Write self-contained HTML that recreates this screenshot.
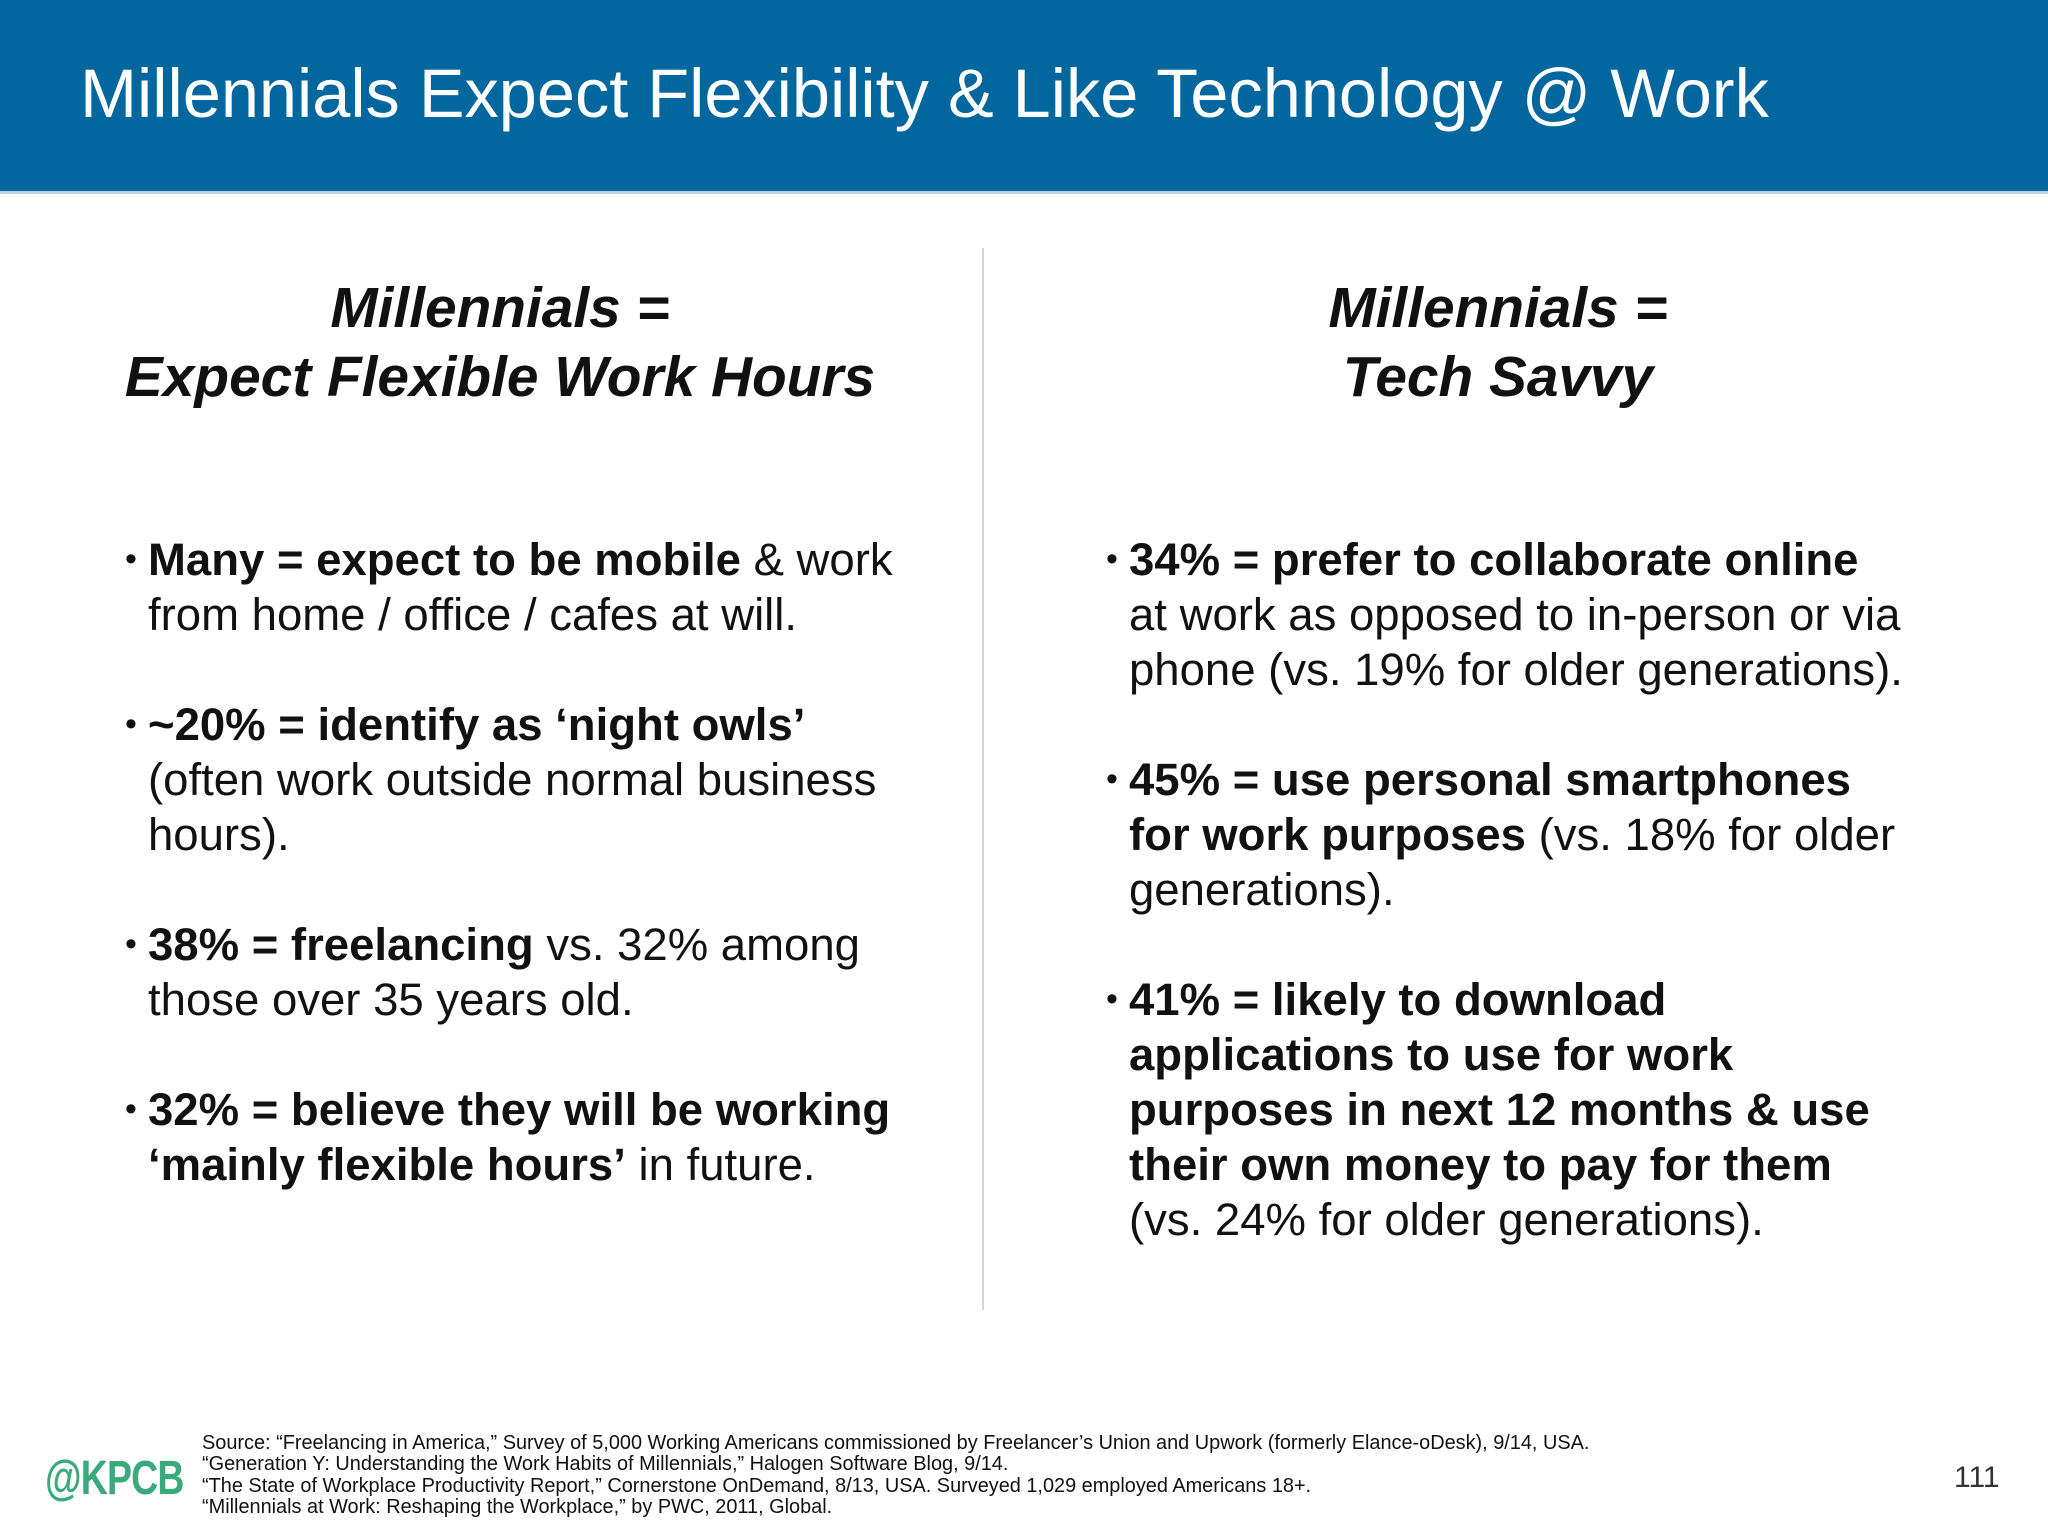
<!DOCTYPE html>
<html><head><meta charset="utf-8"><style>
body{margin:0;width:2048px;height:1536px;background:#fff;position:relative;overflow:hidden;font-family:"Liberation Sans",Arial,sans-serif;color:#111}
.hdr{position:absolute;left:0;top:0;width:2048px;height:191px;background:#01679e;border-bottom:3px solid #b9d3e3}
.title{position:absolute;left:80px;top:61px;font-size:68.5px;line-height:66px;color:#fff;white-space:nowrap}
.h{position:absolute;top:274px;width:900px;font-size:56.8px;line-height:69px;font-weight:bold;font-style:italic;text-align:center;white-space:nowrap}
.div{position:absolute;left:982px;top:248px;width:2px;height:1062px;background:#d6d6d6}
.col{position:absolute;top:532px;font-size:45.5px;line-height:55px;white-space:nowrap}
.b{position:relative;padding-left:23px}
.b:before{content:"•";position:absolute;left:0;top:0;font-size:34px}
.gap{height:55px}
.foot{position:absolute;left:202px;top:1433px;font-size:19.9px;line-height:21.3px;white-space:nowrap;color:#111}
.logo{position:absolute;left:45px;top:1454px;font-size:48px;line-height:50px;font-weight:bold;color:#3aa97c;letter-spacing:-1px;transform:scaleX(0.78);transform-origin:left}
.pg{position:absolute;left:1954px;top:1463px;font-size:30px;line-height:30px;color:#333}
</style></head><body>
<div class="hdr"></div>
<div class="title">Millennials Expect Flexibility &amp; Like Technology @ Work</div>
<div class="h" style="left:50px">Millennials =<br>Expect Flexible Work Hours</div>
<div class="h" style="left:1048px">Millennials =<br>Tech Savvy</div>
<div class="div"></div>
<div class="col" style="left:125px">
<div class="b"><b>Many = expect to be mobile</b> &amp; work<br>from home / office / cafes at will.</div>
<div class="gap"></div>
<div class="b"><b>~20% = identify as ‘night owls’</b><br>(often work outside normal business<br>hours).</div>
<div class="gap"></div>
<div class="b"><b>38% = freelancing</b> vs. 32% among<br>those over 35 years old.</div>
<div class="gap"></div>
<div class="b"><b>32% = believe they will be working<br>‘mainly flexible hours’</b> in future.</div>
</div>
<div class="col" style="left:1106px">
<div class="b"><b>34% = prefer to collaborate online</b><br>at work as opposed to in-person or via<br>phone (vs. 19% for older generations).</div>
<div class="gap"></div>
<div class="b"><b>45% = use personal smartphones<br>for work purposes</b> (vs. 18% for older<br>generations).</div>
<div class="gap"></div>
<div class="b"><b>41% = likely to download<br>applications to use for work<br>purposes in next 12 months &amp; use<br>their own money to pay for them</b><br>(vs. 24% for older generations).</div>
</div>
<div class="logo">@KPCB</div>
<div class="foot">Source: “Freelancing in America,” Survey of 5,000 Working Americans commissioned by Freelancer’s Union and Upwork (formerly Elance-oDesk), 9/14, USA.<br>“Generation Y: Understanding the Work Habits of Millennials,” Halogen Software Blog, 9/14.<br>“The State of Workplace Productivity Report,” Cornerstone OnDemand, 8/13, USA. Surveyed 1,029 employed Americans 18+.<br>“Millennials at Work: Reshaping the Workplace,” by PWC, 2011, Global.</div>
<div class="pg">111</div>
</body></html>
